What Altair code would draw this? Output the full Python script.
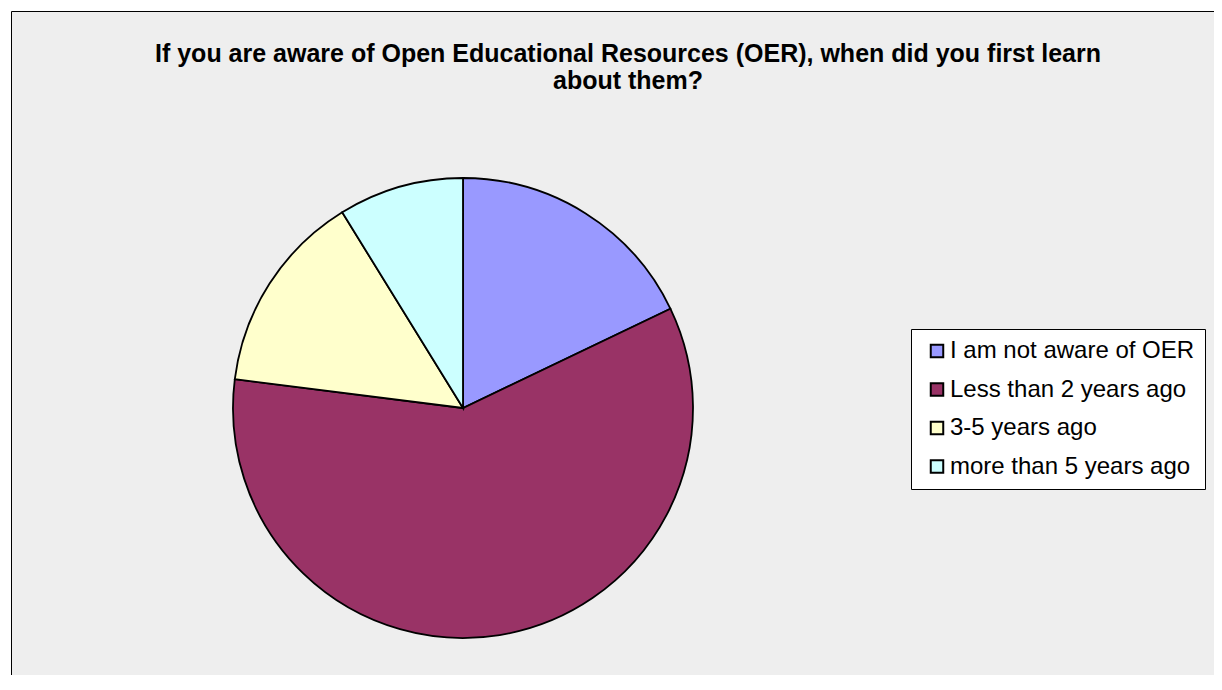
import altair as alt
import pandas as pd

categories = ["I am not aware of OER", "Less than 2 years ago", "3-5 years ago", "more than 5 years ago"]
values = [17.9, 59.1, 14.2, 8.8]
colors = ["#9999FF", "#993366", "#FFFFCC", "#CCFFFF"]
title_lines = ["If you are aware of Open Educational Resources (OER), when did you first learn", "about them?"]

df = pd.DataFrame({"category": categories, "value": values, "order": list(range(len(categories)))})

pie = alt.Chart(df).mark_arc(stroke="black", strokeWidth=1.8, outerRadius=230).encode(
    x=alt.value(452),
    y=alt.value(397),
    theta=alt.Theta("value:Q", stack=True),
    order=alt.Order("order:Q"),
    color=alt.Color(
        "category:N",
        sort=categories,
        scale=alt.Scale(domain=categories, range=colors),
        legend=alt.Legend(
            orient="none", legendX=900, legendY=318, title=None,
            fillColor="white", strokeColor="black", padding=10,
            symbolType="square", symbolSize=156, symbolStrokeColor="black",
            symbolStrokeWidth=2, symbolOffset=4, labelOffset=1,
            labelFont="Liberation Sans", labelFontSize=24, labelColor="black",
            rowPadding=14.5, labelLimit=0,
        ),
    ),
)

title = alt.Chart(df).mark_text(
    font="Liberation Sans", fontWeight="bold", fontSize=25, color="black",
    align="center", baseline="alphabetic", lineHeight=27,
).encode(
    x=alt.value(617), y=alt.value(51), text=alt.value(title_lines)
).transform_filter("datum.order == 0")

chart = alt.layer(pie, title).properties(
    width=1203, height=664,
    padding={"left": 3, "top": 3, "right": 0, "bottom": 0},
    autosize=alt.AutoSizeParams(type="none"),
    background="white",
).configure_view(fill="#EEEEEE", stroke="black", strokeWidth=1)

chart.save("out.html", embed_options={"renderer": "svg", "actions": False})
